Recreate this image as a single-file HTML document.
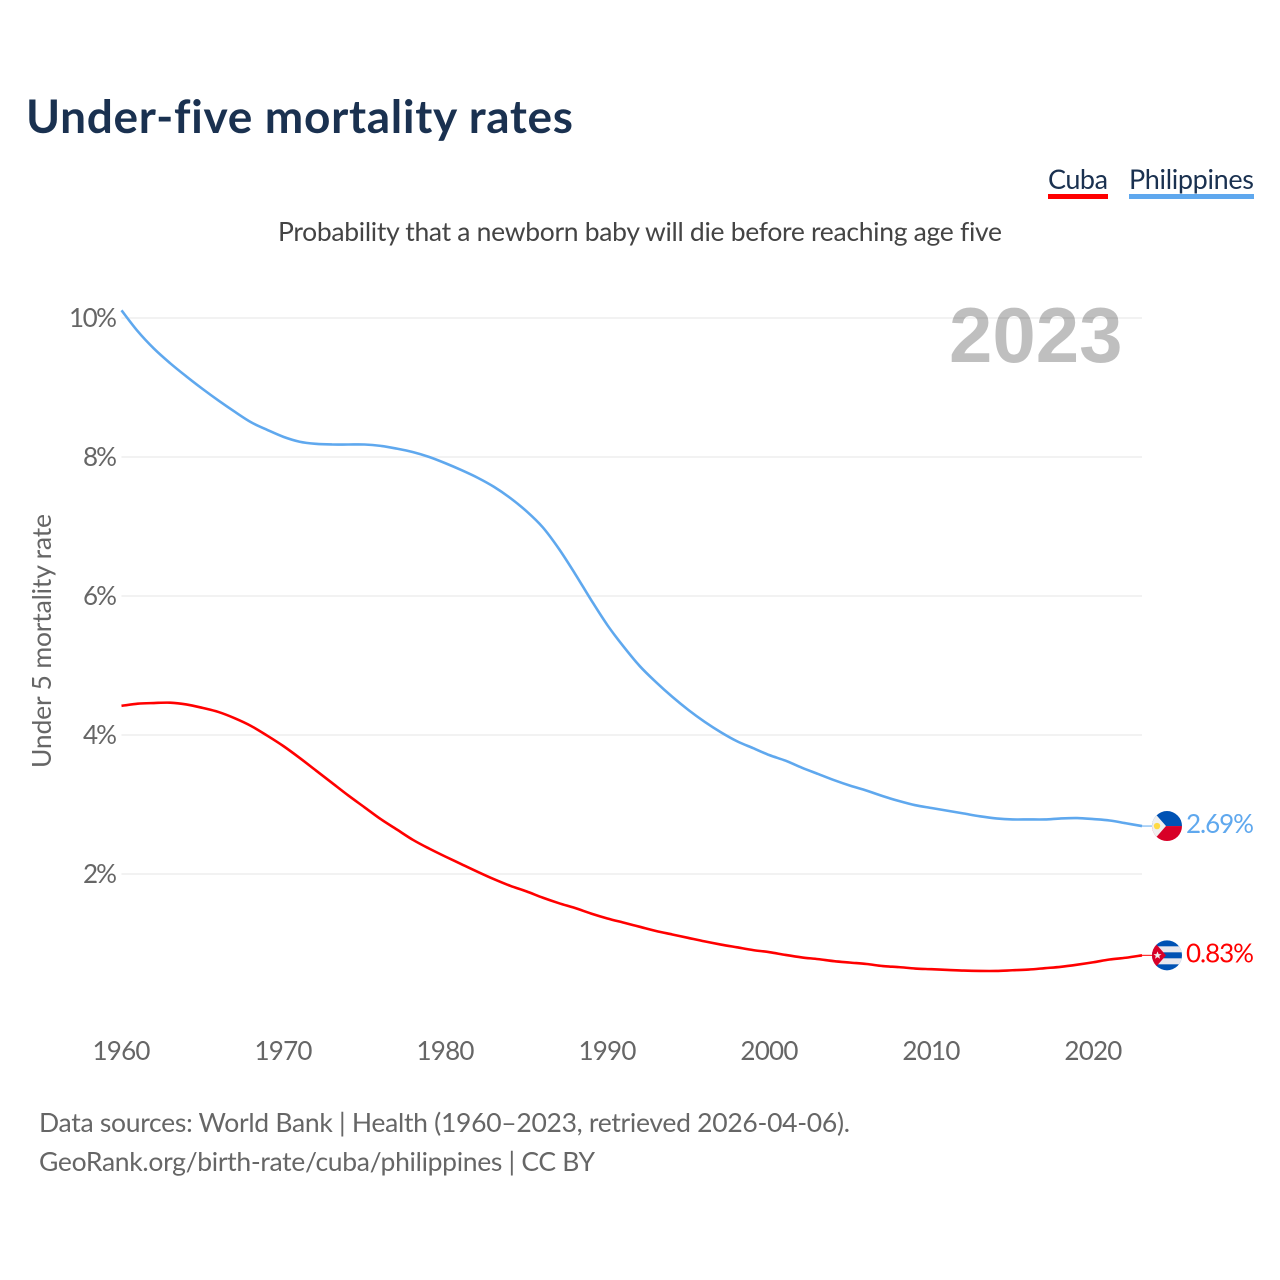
<!DOCTYPE html>
<html lang="en">
<head>
<meta charset="utf-8">
<title>Under-five mortality rates</title>
<style>
html,body{margin:0;padding:0;background:#fff;width:1280px;height:1280px;overflow:hidden}
svg{display:block}
text{font-family:"Lato","Carlito","Liberation Sans",sans-serif;font-variant-ligatures:none}
</style>
</head>
<body>
<svg id="chart" xmlns="http://www.w3.org/2000/svg" width="1280" height="1280" viewBox="0 0 1280 1280">
  <defs>
    <clipPath id="flag-clip"><circle cx="0" cy="0" r="15"></circle></clipPath>
  </defs>
  <rect x="0" y="0" width="1280" height="1280" fill="#fff"></rect>
  <text x="26" y="133" font-size="46" font-weight="700" fill="#1a3150" textLength="547" lengthAdjust="spacing">Under-five mortality rates</text>

  <text x="1048" y="189" font-size="27" fill="#1a3150" textLength="60" lengthAdjust="spacing">Cuba</text>
  <rect x="1048" y="194" width="60" height="5" fill="#ff0000"></rect>
  <text x="1129" y="189" font-size="27" fill="#1a3150" textLength="125" lengthAdjust="spacing">Philippines</text>
  <rect x="1129" y="194" width="125" height="5" fill="#5fa8ee"></rect>

  <text x="278" y="241" font-size="26.5" fill="#444" textLength="724" lengthAdjust="spacing">Probability that a newborn baby will die before reaching age five</text>

  <text transform="translate(51,768) rotate(-90)" font-size="26.5" fill="#666" textLength="254" lengthAdjust="spacing">Under 5 mortality rate</text>

  <g id="grid"></g>
  <g id="y-ticks"></g>
  <g id="x-ticks"></g>

  <text x="949" y="362" font-size="78" font-weight="700" fill="#000" fill-opacity="0.25" style="font-family:'Liberation Sans',sans-serif">2023</text>

  <g id="series"></g>

  <g id="flag-philippines">
    <g clip-path="url(#flag-clip)">
      <rect x="-15" y="-16" width="30" height="16" fill="#0052b4"></rect>
      <rect x="-15" y="0" width="30" height="16" fill="#d80027"></rect>
      <polygon points="-15,-16 -1,0 -15,16" fill="#f0f0f0"></polygon>
      <circle cx="-10" cy="0" r="3.2" fill="#ffda44"></circle>
    </g>
  </g>
  <g id="flag-cuba">
    <g clip-path="url(#flag-clip)">
      <rect x="-15" y="-16" width="30" height="32" fill="#0052b4"></rect>
      <rect x="-15" y="-9" width="30" height="6" fill="#e8e8ee"></rect>
      <rect x="-15" y="3" width="30" height="6" fill="#e8e8ee"></rect>
      <polygon points="-15,-16 -1,0 -15,16" fill="#d80027"></polygon>
      <polygon points="-9.5,-4 -8.4,-1.2 -5.5,-1.2 -7.8,0.6 -7,3.4 -9.5,1.8 -12,3.4 -11.2,0.6 -13.5,-1.2 -10.6,-1.2" fill="#f0f0f0"></polygon>
    </g>
  </g>
  <g id="end-labels"></g>

  <text x="39" y="1132" font-size="26.5" fill="#666" textLength="811" lengthAdjust="spacing">Data sources: World Bank | Health (1960–2023, retrieved 2026-04-06).</text>
  <text x="39" y="1171" font-size="26.5" fill="#666" textLength="556" lengthAdjust="spacing">GeoRank.org/birth-rate/cuba/philippines | CC BY</text>
</svg>
<script>
const firstYear = 1960;
const lastYear = 2023;
const yTicks = [2, 4, 6, 8, 10];
const xTicks = [1960, 1970, 1980, 1990, 2000, 2010, 2020];
const philippinesValues = [10.11,9.81,9.56,9.35,9.16,8.98,8.81,8.65,8.50,8.39,8.29,8.22,8.19,8.18,8.18,8.18,8.16,8.12,8.07,8.00,7.91,7.81,7.70,7.57,7.41,7.22,6.99,6.68,6.32,5.94,5.58,5.27,4.99,4.76,4.55,4.36,4.19,4.04,3.91,3.81,3.71,3.63,3.53,3.44,3.35,3.27,3.20,3.12,3.05,2.99,2.95,2.91,2.87,2.83,2.80,2.785,2.785,2.785,2.80,2.805,2.79,2.77,2.73,2.69];
const cubaValues = [4.42,4.45,4.46,4.465,4.44,4.39,4.33,4.24,4.13,3.99,3.84,3.67,3.49,3.31,3.13,2.96,2.79,2.64,2.49,2.365,2.25,2.14,2.03,1.925,1.83,1.75,1.66,1.58,1.51,1.43,1.36,1.30,1.24,1.18,1.13,1.08,1.03,0.985,0.945,0.905,0.875,0.835,0.80,0.775,0.745,0.725,0.705,0.675,0.66,0.64,0.63,0.62,0.61,0.605,0.605,0.615,0.625,0.645,0.665,0.695,0.73,0.77,0.795,0.83];

const NS = 'http://www.w3.org/2000/svg';
const xLeft = 121.5, xRight = 1142, yZero = 1013, pxPerUnit = 69.5;
function xScale(year) { return xLeft + (year - firstYear) * (xRight - xLeft) / (lastYear - firstYear); }
function yScale(value) { return yZero - value * pxPerUnit; }
function make(tag, attrs) {
  const el = document.createElementNS(NS, tag);
  Object.keys(attrs).forEach(function (k) { el.setAttribute(k, attrs[k]); });
  return el;
}

const gridGroup = document.getElementById('grid');
const yGroup = document.getElementById('y-ticks');
yTicks.forEach(function (t) {
  const line = make('line', { x1: xLeft, x2: xRight, y1: yScale(t), y2: yScale(t), stroke: '#eeeeee', 'stroke-width': 1.4 });
  
  
  gridGroup.appendChild(line);
  const label = make('text', { x: 117, y: yScale(t) + 9, 'text-anchor': 'end', 'font-size': 26, fill: '#666', textLength: t >= 10 ? 48 : 34, lengthAdjust: 'spacing' });
  label.textContent = t + '%';
  
  
  yGroup.appendChild(label);
});

const xGroup = document.getElementById('x-ticks');
xTicks.forEach(function (t) {
  const label = make('text', { x: xScale(t), y: 1060, 'text-anchor': 'middle', 'font-size': 26, fill: '#666', textLength: 58, lengthAdjust: 'spacing' });
  label.textContent = String(t);
  
  
  xGroup.appendChild(label);
});

function linePath(values) {
  const pts = values.map(function (v, i) { return [xScale(firstYear + i), yScale(v)]; });
  let d = 'M' + pts[0][0].toFixed(2) + ' ' + pts[0][1].toFixed(2);
  for (let i = 0; i < pts.length - 1; i++) {
    const p0 = pts[Math.max(i - 1, 0)], p1 = pts[i], p2 = pts[i + 1], p3 = pts[Math.min(i + 2, pts.length - 1)];
    const c1x = p1[0] + (p2[0] - p0[0]) / 6, c1y = p1[1] + (p2[1] - p0[1]) / 6;
    const c2x = p2[0] - (p3[0] - p1[0]) / 6, c2y = p2[1] - (p3[1] - p1[1]) / 6;
    d += 'C' + c1x.toFixed(2) + ' ' + c1y.toFixed(2) + ' ' + c2x.toFixed(2) + ' ' + c2y.toFixed(2) + ' ' + p2[0].toFixed(2) + ' ' + p2[1].toFixed(2);
  }
  return d;
}

const seriesGroup = document.getElementById('series');
const endGroup = document.getElementById('end-labels');

const philippinesLine = make('path', { d: linePath(philippinesValues), fill: 'none', stroke: '#5fa8ee', 'stroke-width': 2.6, 'stroke-linejoin': 'round' });


seriesGroup.appendChild(philippinesLine);

const cubaLine = make('path', { d: linePath(cubaValues), fill: 'none', stroke: '#ff0000', 'stroke-width': 2.6, 'stroke-linejoin': 'round' });


seriesGroup.appendChild(cubaLine);

const philippinesLast = philippinesValues[philippinesValues.length - 1];
const cubaLast = cubaValues[cubaValues.length - 1];

const philippinesConnector = make('line', { x1: xRight, x2: 1152, y1: yScale(philippinesLast), y2: yScale(philippinesLast), stroke: '#5fa8ee', 'stroke-width': 1 });


seriesGroup.appendChild(philippinesConnector);

const cubaConnector = make('line', { x1: xRight, x2: 1152, y1: yScale(cubaLast), y2: yScale(cubaLast), stroke: '#ff0000', 'stroke-width': 1 });


seriesGroup.appendChild(cubaConnector);

document.getElementById('flag-philippines').setAttribute('transform', 'translate(1167,' + yScale(philippinesLast).toFixed(2) + ')');
document.getElementById('flag-cuba').setAttribute('transform', 'translate(1167,' + yScale(cubaLast).toFixed(2) + ')');

const philippinesLabel = make('text', { x: 1186, y: yScale(philippinesLast) + 7, 'font-size': 26, fill: '#5fa8ee', textLength: 68, lengthAdjust: 'spacing' });
philippinesLabel.textContent = philippinesLast.toFixed(2) + '%';


endGroup.appendChild(philippinesLabel);

const cubaLabel = make('text', { x: 1186, y: yScale(cubaLast) + 7, 'font-size': 26, fill: '#ff0000', textLength: 68, lengthAdjust: 'spacing' });
cubaLabel.textContent = cubaLast.toFixed(2) + '%';


endGroup.appendChild(cubaLabel);
</script>
</body>
</html>
